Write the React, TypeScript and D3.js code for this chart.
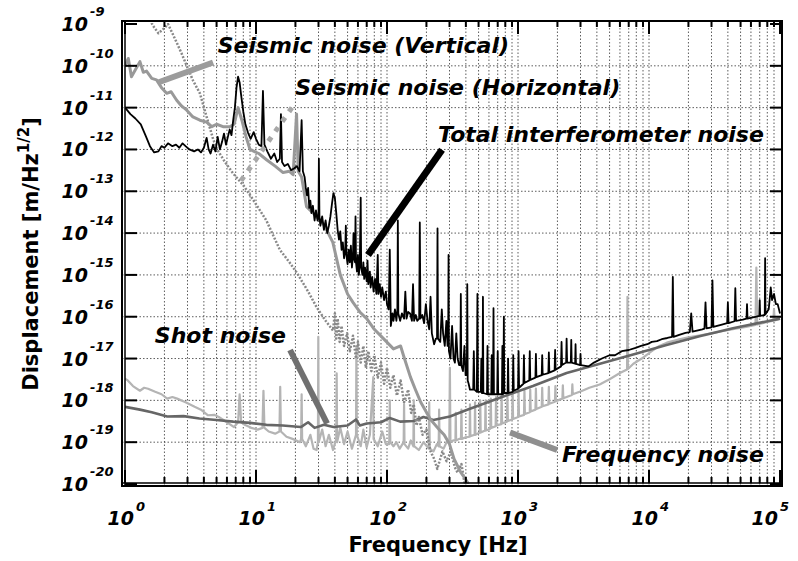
import { useEffect, useRef } from "react";
import * as d3 from "d3";

type Pt = [number, number];

// decade exponents for the axes
const xDecades = [0, 1, 2, 3, 4, 5];
const yDecades = [-9, -10, -11, -12, -13, -14, -15, -16, -17, -18, -19, -20];

// [frequency Hz, displacement m/sqrt(Hz)]
const totalNoise: Pt[] = [
  [1.0, 1.0e-11], [1.1, 7e-12], [1.2, 5.5e-12], [1.32, 4e-12], [1.45, 2e-12], [1.55, 1.2e-12],
  [1.67, 8.5e-13], [1.8, 9e-13], [1.9, 1.2e-12], [2.0, 1.1e-12], [2.13, 1.4e-12], [2.3, 1.2e-12],
  [2.45, 1.3e-12], [2.6, 1.1e-12], [2.75, 1.4e-12], [2.9, 1.2e-12], [3.1, 1.0e-12], [3.37, 9e-13],
  [3.6, 1.0e-12], [3.8, 8.5e-13], [4.0, 1.1e-12], [4.2, 1.9e-12], [4.35, 1.0e-12], [4.5, 8e-13],
  [4.7, 1.3e-12], [4.9, 9e-13], [5.1, 2.0e-12], [5.3, 1.0e-12], [5.5, 1.5e-12], [5.7, 2.4e-12],
  [5.9, 1.3e-12], [6.1, 2.0e-12], [6.3, 3.0e-12], [6.5, 2.2e-12], [6.7, 5e-12], [6.9, 1.0e-11],
  [7.1, 3e-11], [7.3, 5.5e-11], [7.5, 4e-11], [7.7, 2e-11], [8.0, 8e-12], [8.3, 4e-12],
  [8.7, 2.5e-12], [9.1, 1.8e-12], [9.6, 2.6e-12], [10.0, 1.8e-12], [10.5, 1.3e-12], [11.0, 1.2e-12],
  [11.3, 2.5e-11], [11.6, 1.3e-12], [12.2, 9e-13], [13.0, 6e-13], [13.8, 8e-13], [14.5, 5e-13],
  [15.2, 6e-13], [15.5, 7e-12], [15.8, 5e-13], [16.5, 4e-13], [17.5, 4.5e-13], [18.5, 3.2e-13],
  [19.5, 3.5e-13], [20.5, 4e-13], [21.5, 3e-13], [22.3, 5e-12], [22.8, 3e-13], [23.5, 2.2e-13],
  [24, 1.2e-13], [24.5, 8e-14], [25, 1.2e-13], [25.5, 4e-14], [26, 6e-14], [26.5, 3e-14],
  [27.2, 4.5e-14], [28, 2e-14], [28.7, 3.5e-14], [29.5, 2e-14], [30, 2.5e-14], [30.2, 6e-13],
  [30.5, 2.5e-14], [31, 1.5e-14], [32, 2.5e-14], [33, 1.2e-14], [34, 2e-14], [35, 1e-14],
  [36, 1.5e-14], [37, 2.5e-14], [38, 5e-14], [39, 9e-14], [40, 7e-14], [41, 3e-14],
  [42, 1.2e-14], [43, 7e-15], [44, 1.1e-14], [45, 4e-15], [46, 6e-15], [47, 2.5e-15],
  [48, 4e-15], [48.5, 1.5e-14], [49, 3e-15], [50, 1.8e-15], [51, 4e-15], [52, 2e-15],
  [53, 5e-15], [54, 1.5e-15], [55, 3e-15], [55.5, 1e-14], [56, 2.5e-15], [57, 2e-15],
  [57.5, 2.5e-14], [58, 2e-15], [59, 1.2e-15], [60, 3e-15], [61, 1e-15], [62, 2e-15],
  [63, 7e-14], [63.5, 1.5e-15], [65, 1e-15], [66, 2e-15], [67, 8e-16], [68, 1.5e-15],
  [70, 7e-16], [71, 2.2e-15], [72, 6e-16], [74, 1.2e-15], [75, 5e-16], [77, 9e-16],
  [79, 4e-16], [81, 8e-16], [83, 3.5e-16], [85, 3e-15], [86, 3.5e-16], [88, 6e-16],
  [90, 3e-16], [92, 5e-16], [95, 2.5e-16], [98, 4e-16], [100, 2e-16], [103, 1.5e-16],
  [105, 4e-15], [107, 6e-17], [110, 1.2e-16], [112, 8e-17], [115, 1.5e-16], [118, 8e-17],
  [120, 1.5e-16], [121, 2e-14], [122, 1.2e-16], [126, 8e-17], [130, 1.2e-16], [135, 9e-17],
  [138, 4e-16], [141, 9e-17], [145, 1.3e-16], [150, 1.2e-16], [155, 8e-17], [158, 6e-16],
  [161, 8e-17], [166, 1.1e-16], [170, 8e-17], [176, 9e-17], [178, 1.8e-14], [180, 9e-17],
  [186, 1.1e-16], [192, 7e-17], [198, 2e-16], [204, 8e-17], [210, 5e-17], [215, 3e-16],
  [220, 4e-17], [229, 2.2e-17], [236, 3e-17], [241, 3e-17], [243, 1.3e-14], [245, 3e-17],
  [255, 2.5e-17], [262, 1.5e-16], [268, 4e-17], [276, 2e-17], [284, 8e-17], [290, 2e-17],
  [293, 2e-17], [295, 3e-15], [297, 1.5e-17], [305, 1e-17], [314, 6e-17], [322, 1e-17],
  [330, 8e-18], [338, 4e-17], [346, 1e-17], [355, 7e-18], [363, 7e-18], [366, 3.5e-16],
  [369, 7e-18], [380, 5e-18], [390, 2e-17], [398, 4e-18], [407, 4e-18], [410, 6e-16],
  [413, 3e-18], [420, 2.5e-18], [430, 1.8e-18], [455, 1.8e-18], [460, 1.5e-17], [465, 1.8e-18],
  [485, 1.6e-18], [490, 3.5e-16], [495, 1.6e-18], [520, 1.6e-18], [525, 1e-17], [530, 1.5e-18],
  [536, 1.5e-18], [540, 3e-16], [544, 1.5e-18], [580, 1.4e-18], [585, 2e-17], [590, 1.4e-18],
  [625, 1.4e-18], [630, 1.2e-17], [635, 1.4e-18], [645, 1.4e-18], [650, 1.6e-16], [655, 1.4e-18],
  [694, 1.4e-18], [700, 1.5e-17], [706, 1.4e-18], [754, 1.4e-18], [760, 2e-17], [766, 1.4e-18],
  [774, 1.5e-18], [780, 1e-16], [786, 1.5e-18], [833, 1.5e-18], [840, 1e-17], [847, 1.5e-18],
  [912, 1.6e-18], [920, 1.2e-17], [928, 1.7e-18], [1001, 1.9e-18], [1010, 1.5e-17], [1019, 2e-18],
  [1100, 2.5e-18], [1110, 1.2e-17], [1120, 2.6e-18], [1219, 3e-18], [1230, 1.5e-17], [1241, 3.1e-18],
  [1358, 3.5e-18], [1370, 1.3e-17], [1382, 3.6e-18], [1517, 4e-18], [1530, 1.2e-17], [1543, 4.1e-18],
  [1705, 4.5e-18], [1720, 1.4e-17], [1735, 4.6e-18], [1903, 5.2e-18], [1920, 1.6e-17], [1937, 5.4e-18],
  [2130, 6.5e-18], [2150, 2.5e-17], [2170, 7e-18], [2330, 8e-18], [2350, 3e-17], [2370, 8e-18],
  [2530, 8e-18], [2550, 2.8e-17], [2570, 8e-18], [2730, 7.5e-18], [2750, 2.2e-17], [2770, 7.5e-18],
  [2980, 7e-18], [3000, 1.3e-17], [3020, 7e-18], [3450, 6.5e-18], [3800, 8e-18], [4370, 1e-17],
  [5000, 1.2e-17], [5500, 1.2e-17], [6200, 1.5e-17], [7000, 1.6e-17], [7900, 1.8e-17], [8700, 2e-17],
  [9700, 2.2e-17], [10500, 2.5e-17], [11500, 2.6e-17], [12500, 2.9e-17], [13800, 3.1e-17], [15000, 3.3e-17],
  [15200, 9e-16], [15400, 3.3e-17], [17000, 3.7e-17], [19000, 4.1e-17], [20500, 4.3e-17], [21000, 1.2e-16],
  [21500, 4.4e-17], [25500, 5e-17], [26500, 5.2e-17], [27000, 2.2e-16], [27500, 5.3e-17], [30000, 5.6e-17],
  [30500, 7.4e-16], [31000, 5.7e-17], [36000, 6.5e-17], [39500, 7e-17], [40000, 2.2e-16], [40500, 7e-17],
  [45000, 7.8e-17], [45600, 4.8e-16], [46200, 8e-17], [52000, 8.5e-17], [55500, 9e-17], [56000, 2e-16],
  [56500, 9e-17], [66000, 1e-16], [69500, 1.05e-16], [70000, 2.5e-16], [70500, 1.05e-16], [76500, 1.1e-16],
  [77000, 2.5e-15], [77500, 1.15e-16], [82000, 1.5e-16], [85000, 5e-16], [87000, 2.5e-16], [90000, 3.5e-16],
  [93000, 2e-16], [96000, 2e-16], [100000, 1.2e-16],
];

const seismicVertical: Pt[] = [
  [1.0, 1.0e-10], [1.06, 1.5e-10], [1.12, 5.5e-11], [1.2, 8e-11], [1.3, 1.26e-10], [1.38, 7e-11],
  [1.46, 7.5e-11], [1.6, 5e-11], [1.74, 4.6e-11], [1.9, 3e-11], [2.08, 2.2e-11], [2.25, 2.4e-11],
  [2.48, 1.5e-11], [2.7, 1.1e-11], [2.96, 8.7e-12], [3.3, 6e-12], [3.73, 5e-12], [4.2, 4.5e-12],
  [4.6, 3.5e-12], [5.0, 4e-12], [5.6, 3.5e-12], [6.3, 3.5e-12], [6.8, 4e-12], [7.3, 1e-11],
  [7.8, 5e-12], [8.4, 2e-12], [9.0, 1e-12], [10.5, 8e-13], [12.1, 5.6e-13], [14, 4e-13],
  [16.1, 2.8e-13], [18, 3e-13], [19.2, 2.5e-13], [20.4, 7e-12], [21, 3e-13], [22.3, 2.2e-13],
  [24.3, 4.3e-14], [29, 2.5e-14], [33, 1.6e-14], [38.6, 6e-15], [44, 1e-15], [50, 3.5e-16],
  [55, 2.2e-16], [62, 1.3e-16], [70, 9e-17], [80, 5e-17], [94, 3e-17], [112, 1.7e-17],
  [127, 2e-17], [134, 1.15e-17], [151, 3.6e-18], [165, 1.8e-18], [181, 9e-19], [215, 3.5e-19],
  [250, 2e-19], [273, 1.5e-19], [300, 9e-20], [325, 4e-20], [366, 1.9e-20], [412, 1.1e-20],
  [420, 1e-20],
];

const seismicHorizontal: Pt[] = [
  [1.5, 1.5e-9], [1.64, 9e-10], [1.8, 6e-10], [2.0, 8e-10], [2.13, 1e-9], [2.3, 6e-10],
  [2.49, 3.5e-10], [2.7, 2e-10], [2.96, 1e-10], [3.3, 4.5e-11], [3.73, 2.2e-11], [4.2, 6e-12],
  [4.7, 1.8e-12], [5.05, 1e-12], [5.8, 5e-13], [6.67, 2.7e-13], [8.0, 1.4e-13], [9.5, 6.3e-14],
  [12, 2e-14], [15.2, 4e-15], [18, 2e-15], [20.6, 1.1e-15], [25, 4e-16], [29, 1.7e-16],
  [34, 8e-17], [38.7, 4.7e-17], [40, 1.2e-16], [41, 3e-17], [42, 9e-17], [43.5, 2.5e-17],
  [45, 6e-17], [47, 2e-17], [49.6, 4e-17], [52, 1.5e-17], [55, 3.5e-17], [58, 1e-17],
  [60, 2.5e-17], [63, 8e-18], [66, 2e-17], [69, 6e-18], [72, 1.5e-17], [76, 5e-18],
  [80, 1.2e-17], [85, 3.5e-18], [90, 8e-18], [95, 2.5e-18], [100, 6e-18], [106, 2e-18],
  [112, 4e-18], [119, 1.3e-18], [127, 3e-18], [135, 9e-19], [145, 1.8e-18], [153, 5e-19],
  [160, 8e-19], [168, 2.5e-19], [175, 4e-19], [187, 1.5e-19], [200, 2e-19], [215, 6e-20],
  [229, 4e-20], [242, 2.3e-20], [265, 6e-20], [285, 3.5e-20], [307, 6e-20], [330, 2.5e-20],
  [345, 1.9e-20], [370, 3e-20], [390, 1.1e-20], [400, 1e-20],
];

const shotNoise: Pt[] = [
  [1.0, 7e-19], [1.3, 6e-19], [1.6, 5.2e-19], [2.1, 4.1e-19], [2.8, 4.2e-19], [3.7, 3.7e-19],
  [5, 3.4e-19], [6.7, 3.1e-19], [9, 2.9e-19], [12, 2.6e-19], [16, 2.5e-19], [22, 2.3e-19],
  [25, 3e-19], [28, 2.2e-19], [33, 2.6e-19], [39, 2.3e-19], [50, 2.5e-19], [58, 3.5e-19],
  [62, 2.5e-19], [70, 2.8e-19], [90, 3e-19], [105, 3.8e-19], [126, 3.1e-19], [160, 3.2e-19],
  [190, 4e-19], [226, 3.4e-19], [302, 4.1e-19], [405, 5.9e-19], [728, 1.15e-18], [1300, 2.2e-18],
  [2350, 4.5e-18], [4220, 7.5e-18], [7570, 1.25e-17], [13600, 2.1e-17], [24300, 3.4e-17], [43700, 5.3e-17],
  [78600, 7.7e-17], [100000, 9e-17],
];

const frequencyNoise: Pt[] = [
  [1.0, 3.3e-18], [1.05, 3e-18], [1.15, 2.2e-18], [1.3, 1.7e-18], [1.4, 2e-18], [1.5, 1.9e-18],
  [1.7, 1.6e-18], [1.9, 1.4e-18], [2.1, 1.1e-18], [2.3, 1.2e-18], [2.5, 1.1e-18], [2.9, 9e-19],
  [3.4, 7e-19], [3.8, 6e-19], [4.3, 4.4e-19], [4.8, 4.5e-19], [5.2, 4e-19], [6, 3e-19],
  [6.8, 2.3e-19], [7.3, 3e-19], [7.5, 1.4e-18], [7.7, 3e-19], [8.2, 2.6e-19], [9.2, 2.2e-19],
  [10.3, 2e-19], [11.2, 2.2e-19], [11.4, 1.7e-18], [11.6, 2.2e-19], [12.5, 1.8e-19], [14, 1.6e-19],
  [15.1, 1.8e-19], [15.3, 2.1e-18], [15.5, 1.8e-19], [17.1, 1.35e-19], [19, 1.2e-19], [21.7, 1e-19],
  [22.1, 1.2e-19], [22.3, 1.4e-18], [22.5, 1.2e-19], [24, 8e-20], [26, 1.5e-19], [27.5, 7e-20],
  [29, 6.5e-20], [29.7, 1e-19], [29.9, 3.3e-17], [30.1, 1e-19], [32, 2e-19], [34, 8e-20],
  [36, 1.5e-19], [38.7, 6.5e-20], [41, 1.2e-19], [41.3, 4.4e-18], [41.6, 1e-19], [44, 2.2e-19],
  [47, 9e-20], [50, 1.8e-19], [54, 7e-20], [58, 1.5e-19], [58.4, 1.9e-17], [58.8, 1.5e-19],
  [63, 8e-20], [66, 2e-19], [69.9, 7.5e-20], [74, 1.5e-19], [78.6, 3.6e-18], [79, 1.2e-19],
  [85, 8e-20], [92, 1.8e-19], [98, 9e-20], [104, 9e-20], [105, 1e-18], [106, 1e-19],
  [112, 8e-20], [118, 1e-19], [125, 7e-20], [134, 1e-19], [135, 8e-19], [136, 9e-20],
  [145, 7e-20], [152, 1.1e-19], [159, 8e-20], [160, 1e-18], [161, 8e-20], [175, 6.5e-20],
  [190, 1e-19], [208, 7e-20], [210, 9e-19], [212, 7e-20], [226, 6e-20], [240, 9e-20],
  [248, 8e-20], [250, 6e-19], [252, 8e-20], [270, 7e-20], [285, 1e-19], [299, 1e-19],
  [302, 6e-18], [305, 1e-19], [320, 1.1e-19], [333, 1.1e-19], [335, 5e-19], [337, 1.1e-19],
  [355, 1.2e-19], [367, 1.2e-19], [370, 6e-19], [373, 1.2e-19], [395, 1.3e-19], [427, 1.35e-19],
  [430, 8e-19], [433, 1.4e-19], [467, 1.5e-19], [470, 9e-19], [473, 1.5e-19], [511, 1.7e-19],
  [515, 1e-18], [519, 1.7e-19], [561, 1.9e-19], [565, 1e-18], [569, 1.9e-19], [615, 2.1e-19],
  [620, 1.1e-18], [625, 2.2e-19], [675, 2.4e-19], [680, 1.2e-18], [685, 2.5e-19], [744, 2.7e-19],
  [750, 1.3e-18], [756, 2.8e-19], [823, 3.1e-19], [830, 1.4e-18], [837, 3.2e-19], [903, 3.5e-19],
  [910, 1.5e-18], [917, 3.6e-19], [1002, 4e-19], [1010, 1.6e-18], [1018, 4.1e-19], [1111, 4.5e-19],
  [1120, 1.7e-18], [1129, 4.7e-19], [1230, 5.2e-19], [1240, 1.8e-18], [1250, 5.4e-19], [1359, 6e-19],
  [1370, 1.9e-18], [1381, 6.2e-19], [1518, 7e-19], [1530, 2e-18], [1542, 7.2e-19], [1706, 8e-19],
  [1720, 2.1e-18], [1734, 8.3e-19], [1915, 9.3e-19], [1930, 2.2e-18], [1945, 9.6e-19], [2182, 1.1e-18],
  [2200, 2.3e-18], [2218, 1.12e-18], [2580, 1.35e-18], [2600, 2.4e-18], [2620, 1.4e-18], [3100, 1.7e-18],
  [3500, 2e-18], [4200, 2.4e-18], [5000, 3.2e-18], [6000, 4.5e-18], [6800, 5.5e-18], [6850, 3e-16],
  [6900, 5.6e-18], [7600, 7.5e-18], [8800, 1e-17], [10300, 1.45e-17], [12000, 2e-17], [13700, 2.4e-17],
  [17000, 2.9e-17], [20000, 3.2e-17], [24700, 3.6e-17], [30000, 4e-17], [36000, 4.5e-17], [44700, 5.1e-17],
  [55000, 5.7e-17], [65000, 6.4e-17], [66000, 1.5e-15], [67000, 6.5e-17], [80000, 7.5e-17], [89000, 8e-17],
  [90000, 1.5e-16], [91000, 8.2e-17], [100000, 9e-17],
];

// annotation text, anchored at [freq, value] (left end of the baseline)
const labelText = [
  "Seismic noise (Vertical)",
  "Seismic noise (Horizontal)",
  "Total interferometer noise",
  "Shot noise",
  "Frequency noise",
];
const labelAt: Pt[] = [[5.1, 2e-10], [19.9, 2e-11], [245, 1.5e-12], [1.69, 2.3e-17], [2170, 3.3e-20]];

// pointer lines from label to curve
const pointerFrom: Pt[] = [[4.7, 1.2e-10], [18.8, 1e-11], [263, 9.8e-13], [18.2, 1.6e-17], [1990, 6.5e-20]];
const pointerTo: Pt[] = [[1.79, 4e-11], [7.5, 1.6e-13], [71.6, 3e-15], [34.9, 2.8e-19], [870, 1.7e-19]];
const pointerColor = ["#9c9c9c", "#a8a8a8", "#000000", "#707070", "#8f8f8f"];

export default function App() {
  const svgRef = useRef<SVGSVGElement>(null);

  useEffect(() => {
    if (!svgRef.current) return;
    const svg = d3.select(svgRef.current);
    svg.selectAll("*").remove();

    const x = d3.scaleLog().domain([1, 1e5]).range([125, 780]);
    const y = d3.scaleLog().domain([1e-20, 1e-9]).range([484, 24]);
    const font = "'DejaVu Sans', Verdana, sans-serif";

    const left = 122, right = 782, top = 21, bottom = 486;

    // grid
    const grid = svg.append("g").attr("stroke", "#333").attr("stroke-width", 0.8)
      .attr("stroke-dasharray", "1.5,2");
    const minorX: number[] = [];
    for (let k = 0; k < 5; k++) for (let m = 1; m <= 9; m++) minorX.push(m * Math.pow(10, k));
    minorX.slice(1).forEach((f) => {
      grid.append("line").attr("x1", x(f)).attr("x2", x(f)).attr("y1", top).attr("y2", bottom);
    });
    yDecades.slice(1, -1).forEach((e) => {
      const v = Math.pow(10, e);
      grid.append("line").attr("x1", left).attr("x2", right).attr("y1", y(v)).attr("y2", y(v));
    });

    // series
    svg.append("clipPath").attr("id", "plot").append("rect")
      .attr("x", 125).attr("y", 23).attr("width", 656).attr("height", 461);
    const line = d3.line<Pt>().x((d) => x(d[0])).y((d) => y(d[1]));
    const series = svg.append("g").attr("clip-path", "url(#plot)").attr("fill", "none")
      .attr("stroke-linejoin", "round");

    series.append("path").datum(frequencyNoise).attr("d", line)
      .attr("stroke", "#b4b4b4").attr("stroke-width", 2.2);
    series.append("path").datum(shotNoise).attr("d", line)
      .attr("stroke", "#666").attr("stroke-width", 2.6);
    series.append("path").datum(seismicHorizontal).attr("d", line)
      .attr("stroke", "#888").attr("stroke-width", 2.5).attr("stroke-dasharray", "2,1.6");
    series.append("path").datum(seismicVertical).attr("d", line)
      .attr("stroke", "#999").attr("stroke-width", 3);
    series.append("path").datum(totalNoise).attr("d", line)
      .attr("stroke", "#000").attr("stroke-width", 1.8);

    // ticks
    const ticks = svg.append("g").attr("stroke", "#000").attr("stroke-width", 2);
    minorX.concat([1e5]).forEach((f) => {
      const major = Math.abs(Math.log10(f) - Math.round(Math.log10(f))) < 1e-9;
      const len = major ? 13 : 6;
      ticks.append("line").attr("x1", x(f)).attr("x2", x(f)).attr("y1", bottom - 3).attr("y2", bottom - 3 - len);
      ticks.append("line").attr("x1", x(f)).attr("x2", x(f)).attr("y1", top).attr("y2", top + len);
    });
    yDecades.forEach((e) => {
      const v = Math.pow(10, e);
      ticks.append("line").attr("x1", left + 3).attr("x2", left + 15).attr("y1", y(v)).attr("y2", y(v));
      ticks.append("line").attr("x1", right).attr("x2", right - 12).attr("y1", y(v)).attr("y2", y(v));
    });

    // frame
    svg.append("rect").attr("x", left).attr("y", top).attr("width", right - left).attr("height", bottom - top)
      .attr("fill", "none").attr("stroke", "#000").attr("stroke-width", 2);
    svg.append("line").attr("x1", left + 3).attr("x2", left + 3).attr("y1", top).attr("y2", bottom)
      .attr("stroke", "#000").attr("stroke-width", 1.5);
    svg.append("line").attr("x1", left).attr("x2", right).attr("y1", bottom - 3).attr("y2", bottom - 3)
      .attr("stroke", "#000").attr("stroke-width", 1.5);

    // tick labels
    const tl = svg.append("g").attr("font-family", font).attr("font-weight", "bold")
      .attr("font-style", "italic").attr("fill", "#000");
    yDecades.forEach((e) => {
      const yy = y(Math.pow(10, e));
      tl.append("text").attr("x", 88).attr("y", yy + 7).attr("text-anchor", "end")
        .attr("font-size", 19).text("10");
      tl.append("text").attr("x", 90).attr("y", yy - 8).attr("font-size", 13).text(`${e}`);
    });
    xDecades.forEach((e) => {
      const xx = Math.min(x(Math.pow(10, e)) + 9, 778);
      tl.append("text").attr("x", xx).attr("y", 525).attr("text-anchor", "end")
        .attr("font-size", 19).text("10");
      tl.append("text").attr("x", xx + 2).attr("y", 511).attr("font-size", 13).text(`${e}`);
    });

    // axis titles
    svg.append("text").attr("x", 438).attr("y", 552).attr("text-anchor", "middle")
      .attr("font-family", font).attr("font-weight", "bold").attr("font-size", 21)
      .text("Frequency [Hz]");
    const yt = svg.append("text").attr("transform", "translate(38,254) rotate(-90)")
      .attr("text-anchor", "middle").attr("font-family", font).attr("font-weight", "bold")
      .attr("font-size", 21);
    yt.append("tspan").text("Displacement [m/Hz");
    yt.append("tspan").attr("font-size", 15).attr("dy", -9).text("1/2");
    yt.append("tspan").attr("dy", 9).text("]");

    // pointers
    pointerFrom.forEach((p, i) => {
      const l = svg.append("line")
        .attr("x1", x(p[0])).attr("y1", y(p[1]))
        .attr("x2", x(pointerTo[i][0])).attr("y2", y(pointerTo[i][1]))
        .attr("stroke", pointerColor[i]).attr("stroke-width", i === 2 ? 7 : 6);
      if (i === 1) l.attr("stroke-dasharray", "5,7").attr("stroke-width", 5);
    });

    // annotation labels
    labelText.forEach((t, i) => {
      svg.append("text").attr("x", x(labelAt[i][0])).attr("y", y(labelAt[i][1]))
        .attr("font-family", font).attr("font-weight", "bold").attr("font-style", "italic")
        .attr("font-size", 22).attr("fill", "#000").text(t);
    });
  }, []);

  return (
    <svg
      ref={svgRef}
      width={798}
      height={561}
      style={{ position: "absolute", left: 0, top: 0, background: "#fff" }}
    />
  );
}
